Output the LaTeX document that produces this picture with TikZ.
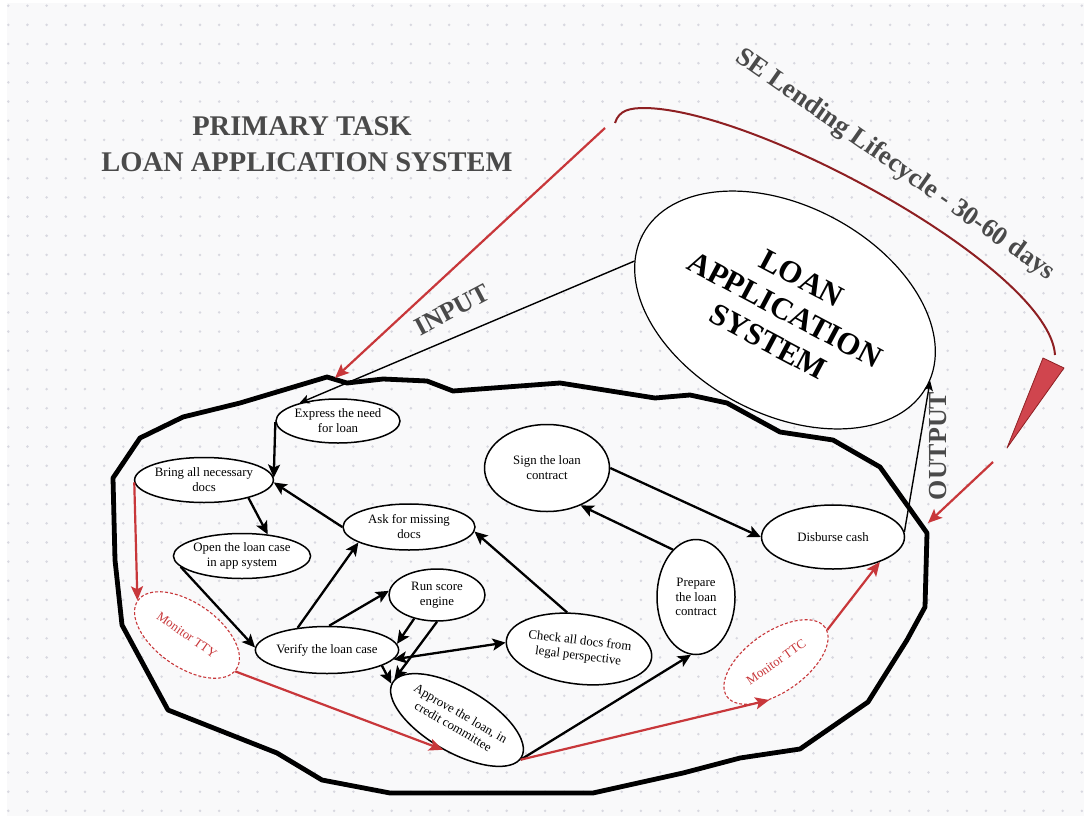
\documentclass[tikz,border=0pt]{standalone}
\usepackage{fontspec}
\setmainfont{Liberation Serif}
\usetikzlibrary{arrows.meta,shapes.geometric}

\definecolor{bgpaper}{HTML}{F9F9FA}
\definecolor{dotgrey}{HTML}{D8D8E0}
\definecolor{labelgrey}{HTML}{4A4A4A}
\definecolor{flowred}{HTML}{C8373A}
\definecolor{lifered}{HTML}{8E1F22}
\definecolor{wedgered}{HTML}{D0454E}

\begin{document}
\begin{tikzpicture}[x=1pt,y=-1pt,
  proc/.style={ellipse, draw=black, line width=1.5pt, fill=white, inner sep=0pt,
    align=center, font=\fontsize{12.8}{15}\selectfont},
  monitor/.style={proc, draw=flowred, line width=1.1pt, dash pattern=on 3pt off 2pt, text=flowred},
  flow/.style={line width=2.3pt, -{Stealth[length=13pt,width=12pt,inset=3pt]}},
  twoway/.style={line width=2.3pt, {Stealth[length=13pt,width=12pt,inset=3pt]}-{Stealth[length=13pt,width=12pt,inset=3pt]}},
  thinflow/.style={line width=1.4pt, -{Stealth[length=10pt,width=9pt,inset=2.5pt]}},
  redflow/.style={flowred, line width=2.2pt, -{Stealth[length=14pt,width=12pt,inset=3pt]}},
  biglabel/.style={text=labelgrey, inner sep=0pt, font=\fontsize{26}{30}\selectfont\bfseries},
  titletext/.style={text=labelgrey, inner sep=0pt, anchor=base, font=\fontsize{28.5}{36}\selectfont\bfseries}
]
\useasboundingbox (0,0) rectangle (1084,816);

% dotted paper
\fill[white] (0,0) rectangle (1084,816);
\fill[bgpaper] (7,3) rectangle (1084,816);
\foreach \i in {0,...,56}
  \foreach \j in {0,...,42}
    \fill[dotgrey] ({8.3+19.17*\i},{5.7+19.17*\j}) circle (1.4pt);

% headings
\node[titletext] (title1) at (302,135) {PRIMARY TASK};
\node[titletext] (title2) at (307,171) {LOAN APPLICATION SYSTEM};
\node[biglabel, rotate=28] (inputlbl) at (452,310) {INPUT};
\node[biglabel, rotate=90] (outputlbl) at (938,446) {OUTPUT};
\node[biglabel, rotate=-35, font=\fontsize{26.5}{30}\selectfont\bfseries] (cyclelbl) at (895,165) {SE Lending Lifecycle - 30-60 days};

% the system
\node[ellipse, draw=black, line width=1.2pt, fill=white, inner sep=0pt, align=center,
      minimum width=322pt, minimum height=208pt, rotate=-28,
      font=\fontsize{31}{36}\selectfont\bfseries] (las) at (785,310) {LOAN\\APPLICATION\\SYSTEM};

% process boundary
\draw[line width=4.8pt, line join=round]
  (113,478) -- (115,560) -- (122,625) -- (168,710) -- (277,753) -- (322,780) -- (390,793)
  -- (593,793) -- (683,773) -- (740,758) -- (800,749) -- (868,702) -- (907,640)
  -- (925,607) -- (927,533) -- (880,467) -- (833,440) -- (780,432) -- (727,403)
  -- (690,395) -- (655,398) -- (560,383) -- (453,391) -- (427,381) -- (383,379)
  -- (347,383) -- (327,377) -- (240,403) -- (183,417) -- (140,438) -- cycle;

% process steps
\node[proc, minimum width=124pt, minimum height=44pt] (express) at (338,421) {Express the need\\for loan};
\node[proc, minimum width=124pt, minimum height=45pt] (bring) at (204,480) {Bring all necessary\\docs};
\node[proc, minimum width=124pt, minimum height=45pt] (open) at (242,556) {Open the loan case\\in app system};
\node[proc, minimum width=132pt, minimum height=46pt] (ask) at (409,527) {Ask for missing\\docs};
\node[proc, minimum width=96pt, minimum height=52pt] (run) at (437,595) {Run score\\engine};
\node[proc, minimum width=124pt, minimum height=47pt] (verify) at (327,650) {Verify\ the loan case};
\node[monitor, minimum width=120pt, minimum height=64pt, rotate=-35] (tty) at (187,635) {Monitor TTY};
\node[proc, minimum width=132pt, minimum height=64pt, rotate=-30] (approve) at (457,720) {Approve the loan, in\\credit committee};
\node[proc, minimum width=138pt, minimum height=70pt, rotate=-7] (check) at (579,649) {Check all docs from\\legal perspective};
\node[proc, minimum width=78pt, minimum height=115pt, font=\fontsize{12.8}{14.5}\selectfont] (prepare) at (696,597) {Prepare\\the loan\\contract};
\node[proc, minimum width=125pt, minimum height=87pt] (sign) at (547,468) {Sign the loan\\contract};
\node[proc, minimum width=143pt, minimum height=64pt] (disburse) at (833,537) {Disburse cash};
\node[monitor, minimum width=120pt, minimum height=60pt, rotate=35] (ttc) at (776,662) {Monitor TTC};

% input and output of the system
\draw[thinflow] (las.190) -- (express.155);
\draw[thinflow] (disburse.4) -- (las.2);

% flow between steps
\draw[flow] (express.181) -- (bring.2);
\draw[flow] (ask.west) -- (bring.-2);
\draw[flow] (bring.-22) -- (open.40);
\draw[flow] (open.190) -- (verify.178);
\draw[flow] (verify.143) -- (ask.197);
\draw[flow] (verify.85) -- (run.175);
\draw[flow] (run.226) -- (verify.5);
\draw[flow] (run.south) -- (approve.177);
\draw[flow] (verify.-16) -- (approve.181);
\draw[twoway] (verify.-8) -- (check.182);
\draw[flow] (check.115) -- (ask.-4);
\draw[flow] (approve.-2) -- (prepare.265);
\draw[flow] (prepare.116) -- (sign.-48);
\draw[flow] (sign.east) -- (disburse.180);

% monitoring
\draw[redflow] (bring.182) -- (tty.180);
\draw[redflow] (tty.-2) -- (approve.275);
\draw[redflow] (approve.-2) -- (ttc.225);
\draw[redflow] (ttc.-3) -- (disburse.-28);

% lending lifecycle bracket
\coordinate (cycleStart) at (615,123);
\coordinate (cycleEnd) at (1055,355);
\draw[lifered, line width=2pt] (cycleStart) .. controls (619,110) and (630,108) .. (645,108)
  .. controls (760,110) and (1050,270) .. (cycleEnd);
\filldraw[fill=wedgered, draw=lifered, line width=0.8pt, line join=round]
  (1043,358) -- (1064,368) -- (1007,448) -- cycle;

\coordinate (inHead) at (605,128);
\coordinate (inTip) at (335,378);
\draw[redflow] (inHead) -- (inTip);
\coordinate (outHead) at (993,462);
\coordinate (outTip) at (928,523);
\draw[redflow] (outHead) -- (outTip);
\end{tikzpicture}
\end{document}
